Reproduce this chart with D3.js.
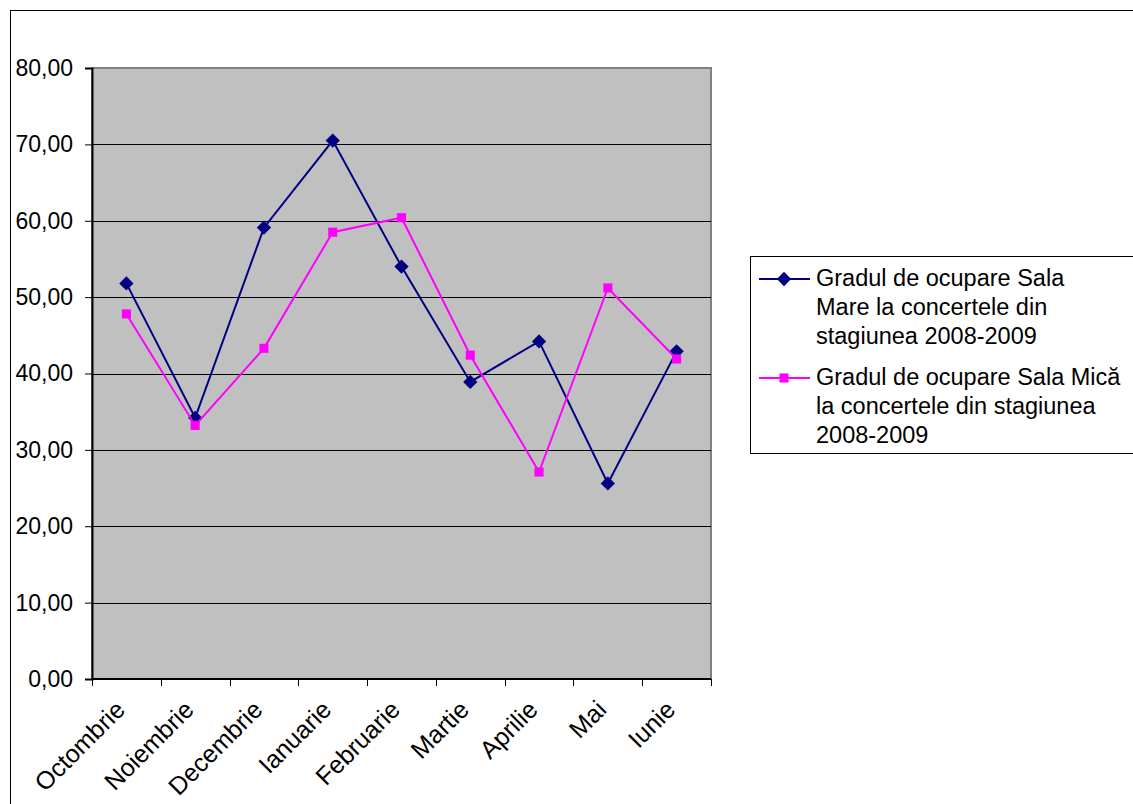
<!DOCTYPE html>
<html>
<head>
<meta charset="utf-8">
<script src="https://cdn.jsdelivr.net/npm/d3@7"></script>
<style>
  body { margin: 0; background: #fff; }
  svg { display: block; font-family: "Liberation Sans", Arial, sans-serif; }
</style>
</head>
<body>
<svg></svg>
<script>
const width = 1133;
const height = 804;

const months = ['Octombrie', 'Noiembrie', 'Decembrie', 'Ianuarie', 'Februarie', 'Martie', 'Aprilie', 'Mai', 'Iunie'];
const salaMare = [51.8, 34.2, 59.1, 70.5, 54.0, 38.9, 44.2, 25.6, 42.9];
const salaMica = [47.8, 33.2, 43.3, 58.5, 60.4, 42.4, 27.1, 51.2, 41.9];
const yTicks = [0, 10, 20, 30, 40, 50, 60, 70, 80];
const legendLines = [
    ['Gradul de ocupare Sala', 'Mare la concertele din', 'stagiunea 2008-2009'],
    ['Gradul de ocupare Sala Mică', 'la concertele din stagiunea', '2008-2009']
];

const plot = { left: 92, top: 68, right: 711, bottom: 679 };

const svg = d3.select('svg')
    .attr('width', width).attr('height', height);

// outer chart frame (runs off the right and bottom edges)
svg.append('rect')
    .attr('x', 10.5).attr('y', 10.5)
    .attr('width', width + 20).attr('height', height + 20)
    .attr('fill', '#fff')
    .attr('stroke', '#000')
    .attr('stroke-width', 1);

const x = d3.scaleBand().domain(months).range([plot.left, plot.right]);
const y = d3.scaleLinear().domain([0, 80]).range([plot.bottom, plot.top]);

svg.append('rect')
    .attr('x', plot.left).attr('y', plot.top)
    .attr('width', plot.right - plot.left).attr('height', plot.bottom - plot.top)
    .attr('fill', '#c0c0c0')
    .attr('stroke', '#808080')
    .attr('stroke-width', 2);

// gridlines
svg.append('g')
    .selectAll('line')
    .data(yTicks.filter(d => d > 0 && d < 80))
    .enter().append('line')
    .attr('x1', plot.left).attr('x2', plot.right)
    .attr('y1', d => Math.round(y(d)) + 0.5).attr('y2', d => Math.round(y(d)) + 0.5)
    .attr('stroke', '#000')
    .attr('stroke-width', 1);

// y axis
const yAxis = svg.append('g')
    .attr('transform', `translate(${plot.left},0)`)
    .call(d3.axisLeft(y).tickValues(yTicks).tickSize(7).tickPadding(12)
        .tickFormat(d => d3.format('.2f')(d).replace('.', ',')));
yAxis.select('.domain').attr('stroke', '#000').attr('stroke-width', 2);
yAxis.selectAll('.tick line').attr('stroke', '#000');
yAxis.selectAll('.tick text')
    .attr('font-size', 23)
    .attr('font-family', '"Liberation Sans", Arial, sans-serif')
    .attr('fill', '#000');

// x axis: ticks at category boundaries
const boundaries = months.map(m => x(m)).concat([plot.right]);
svg.append('line')
    .attr('x1', plot.left).attr('x2', plot.right)
    .attr('y1', plot.bottom).attr('y2', plot.bottom)
    .attr('stroke', '#000').attr('stroke-width', 2);
svg.append('g')
    .selectAll('line')
    .data(boundaries)
    .enter().append('line')
    .attr('x1', d => Math.round(d) + 0.5).attr('x2', d => Math.round(d) + 0.5)
    .attr('y1', plot.bottom).attr('y2', plot.bottom + 7)
    .attr('stroke', '#000');

svg.append('g')
    .selectAll('text')
    .data(months)
    .enter().append('text')
    .attr('transform', d => `translate(${x(d) + x.bandwidth() / 2 - 6},${plot.bottom + 26}) rotate(-45)`)
    .attr('text-anchor', 'end')
    .attr('dy', '0.35em')
    .attr('font-size', 25)
    .attr('fill', '#000')
    .text(d => d);

const cx = (d, i) => x(months[i]) + x.bandwidth() / 2;
const line = d3.line().x((d, i) => cx(d, i)).y(d => y(d));

const diamond = d3.symbol().type(d3.symbolDiamond2).size(130);
const square = d3.symbol().type(d3.symbolSquare2).size(105);

function drawSeries(values, color, symbol) {
    svg.append('path')
        .datum(values)
        .attr('d', line)
        .attr('fill', 'none')
        .attr('stroke', color)
        .attr('stroke-width', 2);
    svg.append('g')
        .selectAll('path')
        .data(values)
        .enter().append('path')
        .attr('d', symbol)
        .attr('transform', (d, i) => `translate(${cx(d, i)},${y(d)})`)
        .attr('fill', color);
}

drawSeries(salaMare, '#000080', diamond);
drawSeries(salaMica, '#ff00ff', square);

// legend
const legend = svg.append('g');
legend.append('rect')
    .attr('x', 750.5).attr('y', 256.5)
    .attr('width', 400).attr('height', 197)
    .attr('fill', '#fff')
    .attr('stroke', '#000')
    .attr('stroke-width', 1);

const legendItems = [
    { lines: legendLines[0], color: '#000080', symbol: diamond, y: 286 },
    { lines: legendLines[1], color: '#ff00ff', symbol: square, y: 385 }
];
legendItems.forEach(item => {
    legend.append('line')
        .attr('x1', 759).attr('x2', 810)
        .attr('y1', item.y - 7).attr('y2', item.y - 7)
        .attr('stroke', item.color).attr('stroke-width', 2);
    legend.append('path')
        .attr('d', item.symbol)
        .attr('transform', `translate(784,${item.y - 7})`)
        .attr('fill', item.color);
    legend.append('text')
        .attr('x', 816).attr('y', item.y)
        .attr('font-size', 23.5)
        .attr('fill', '#000')
        .selectAll('tspan')
        .data(item.lines)
        .enter().append('tspan')
        .attr('x', 816)
        .attr('y', (d, i) => item.y + i * 29)
        .text(d => d);
});
</script>
</body>
</html>
